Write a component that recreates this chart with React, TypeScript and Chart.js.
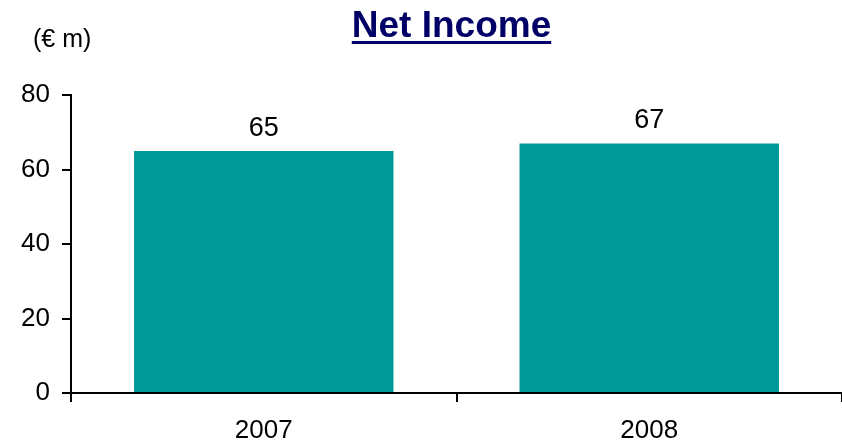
import { useEffect, useRef } from "react";
import { Chart, registerables } from "chart.js";

Chart.register(...registerables);

const categories = ["2007", "2008"];
const netIncome = [65, 67];
const yTicks = [0, 20, 40, 60, 80];
const titleText = "Net Income";
const unitText = "(€ m)";

const FONT = "'Liberation Sans', Arial, Helvetica, sans-serif";

export default function App() {
  const ref = useRef<HTMLCanvasElement>(null);

  useEffect(() => {
    if (!ref.current) return;
    const overlay = {
      id: "overlay",
      afterDraw(chart: any) {
        const ctx = chart.ctx as CanvasRenderingContext2D;
        ctx.save();
        // Title
        ctx.font = `bold 37px ${FONT}`;
        ctx.fillStyle = "#000066";
        ctx.textAlign = "center";
        ctx.textBaseline = "alphabetic";
        const cx = 451.5;
        ctx.fillText(titleText, cx, 37);
        const w = ctx.measureText(titleText).width;
        ctx.fillRect(cx - w / 2, 41, w, 3);
        // Unit label
        ctx.font = `25px ${FONT}`;
        ctx.fillStyle = "#000000";
        ctx.textAlign = "left";
        ctx.fillText(unitText, 33, 47);
        // Data labels
        ctx.font = `27px ${FONT}`;
        ctx.textAlign = "center";
        const meta = chart.getDatasetMeta(0);
        meta.data.forEach((bar: any, i: number) => {
          ctx.fillText(String(netIncome[i]), bar.x, bar.y - 15);
        });
        ctx.restore();
      },
    };

    const chart = new Chart(ref.current, {
      type: "bar",
      data: {
        labels: categories,
        datasets: [
          {
            data: netIncome,
            backgroundColor: "#009999",
            borderWidth: 0,
            barPercentage: 0.673,
            categoryPercentage: 1,
          },
        ],
      },
      options: {
        responsive: false,
        animation: false,
        layout: { padding: { top: 95, right: 0, left: 0, bottom: 0 } },
        plugins: {
          legend: { display: false },
          title: { display: false },
          tooltip: { enabled: false },
        },
        scales: {
          x: {
            grid: {
              display: true,
              drawOnChartArea: false,
              drawTicks: true,
              tickLength: 9,
              color: (c: any) => (c.index === categories.length ? "#d0d0d0" : "#000000"),
              lineWidth: (c: any) => (c.index === categories.length ? 1 : 2),
              offset: true,
            },
            border: { display: true, color: "#000000", width: 2 },
            ticks: {
              color: "#000000",
              font: { family: FONT, size: 26 },
              padding: 13,
            },
            afterFit(scale: any) {
              scale.height = 54;
            },
          },
          y: {
            min: yTicks[0],
            max: yTicks[yTicks.length - 1],
            afterBuildTicks(scale: any) {
              scale.ticks = yTicks.map((v) => ({ value: v }));
            },
            grid: {
              display: true,
              drawOnChartArea: false,
              drawTicks: true,
              tickLength: 9,
              color: "#000000",
              lineWidth: 2,
            },
            border: { display: true, color: "#000000", width: 2 },
            ticks: {
              color: "#000000",
              font: { family: FONT, size: 26 },
              padding: 12,
            },
            afterFit(scale: any) {
              scale.width = 71;
            },
          },
        },
      },
      plugins: [overlay],
    });
    return () => chart.destroy();
  }, []);

  return (
    <div style={{ position: "absolute", left: 0, top: 0, width: 842, height: 447, background: "#fff" }}>
      <canvas ref={ref} width={842} height={447} style={{ display: "block" }} />
    </div>
  );
}
